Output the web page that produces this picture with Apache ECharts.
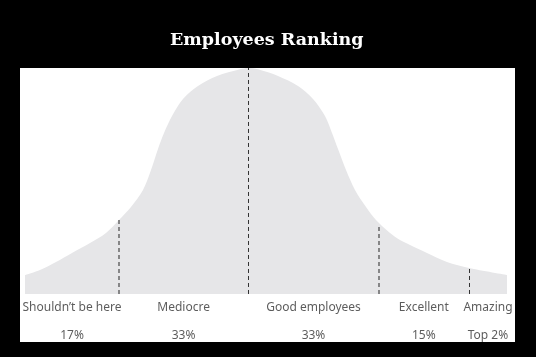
<!DOCTYPE html>
<html>
<head>
<meta charset="utf-8">
<script src="https://cdn.jsdelivr.net/npm/echarts@6/dist/echarts.min.js"></script>
<style>html,body{margin:0;padding:0;background:#000;}#c{width:536px;height:357px;}</style>
</head>
<body>
<div id="c"></div>
<script>
// Bell curve outline (x: position 0-100, y: % of peak height)
var curveX = [0, 3.11, 6.43, 9.75, 13.49, 16.80, 19.50, 21.99, 24.48, 26.14, 27.59, 28.84, 30.50, 32.78, 35.89, 39.83, 44.61, 46.27, 48.34, 52.49, 56.64, 59.75, 62.24, 63.69, 64.94, 66.60, 68.46, 70.75, 72.82, 75.73, 77.80, 79.88, 83.40, 87.55, 92.12, 100];
var curveY = [8.4, 10.62, 14.16, 18.14, 22.57, 26.99, 32.74, 38.50, 46.02, 54.87, 64.16, 71.24, 78.76, 86.28, 92.04, 96.46, 99.42, 100, 99.42, 96.46, 92.04, 86.28, 78.76, 71.24, 64.16, 54.87, 46.02, 38.50, 32.74, 26.99, 23.89, 21.68, 18.14, 14.16, 11.50, 8.4];
// Segment boundaries (dashed dividers) and their heights
var boundaries = [19.5, 46.3, 73.4, 92.1];
var boundaryHeights = [32.7, 100, 30.5, 11.5];
// Segments
var categories = ["Shouldn\u2019t be here", "Mediocre", "Good employees", "Excellent", "Amazing"];
var shares = ["17%", "33%", "33%", "15%", "Top 2%"];
var xStart = 0, xEnd = 100;

var edges = [xStart].concat(boundaries).concat([xEnd]);
var mids = [];
for (var i = 0; i < categories.length; i++) mids.push((edges[i] + edges[i + 1]) / 2);

var curve = curveX.map(function (x, i) { return [x, curveY[i]]; });
var nameData = mids.map(function (m, i) { return { value: [m, -6.2], name: categories[i] }; });
var shareData = mids.map(function (m, i) { return { value: [m, -18.6], name: shares[i] }; });
var lineData = boundaries.map(function (b, i) {
  var dark = (i === 1 || i === 3);
  return [
    { coord: [b, 0], lineStyle: { color: dark ? '#333' : '#6e6e6e', width: dark ? 1 : 1.6 } },
    { coord: [b, boundaryHeights[i]] }
  ];
});

var chart = echarts.init(document.getElementById('c'), null, { renderer: 'canvas' });
chart.setOption({
  backgroundColor: '#000',
  animation: false,
  title: {
    text: 'Employees Ranking',
    left: 165,
    top: 26,
    textStyle: { color: '#fff', fontFamily: 'DejaVu Serif', fontWeight: 'bold', fontSize: 17.5 }
  },
  grid: {
    left: 20, right: 21, top: 68, bottom: 15,
    show: true, backgroundColor: '#fff', borderWidth: 0
  },
  xAxis: {
    type: 'value', min: -1.04, max: 101.66,
    show: false
  },
  yAxis: {
    type: 'value', min: -21.24, max: 100,
    show: false
  },
  series: [
    {
      type: 'line',
      data: curve,
      smooth: 0.3,
      symbol: 'none',
      lineStyle: { width: 0 },
      areaStyle: { color: '#e6e6e8', origin: 0, opacity: 1 },
      markLine: {
        silent: true,
        symbol: 'none',
        label: { show: false },
        lineStyle: { type: [4, 3], color: '#444', width: 1 },
        data: lineData
      },
      z: 2
    },
    {
      type: 'scatter',
      data: nameData,
      symbolSize: 0,
      silent: true,
      label: {
        show: true, position: 'inside', formatter: '{b}',
        color: '#333', fontFamily: 'Noto Sans', fontSize: 12
      }
    },
    {
      type: 'scatter',
      data: shareData,
      symbolSize: 0,
      silent: true,
      label: {
        show: true, position: 'inside', formatter: '{b}',
        color: '#333', fontFamily: 'Noto Sans', fontSize: 12
      }
    }
  ]
});
</script>
</body>
</html>
